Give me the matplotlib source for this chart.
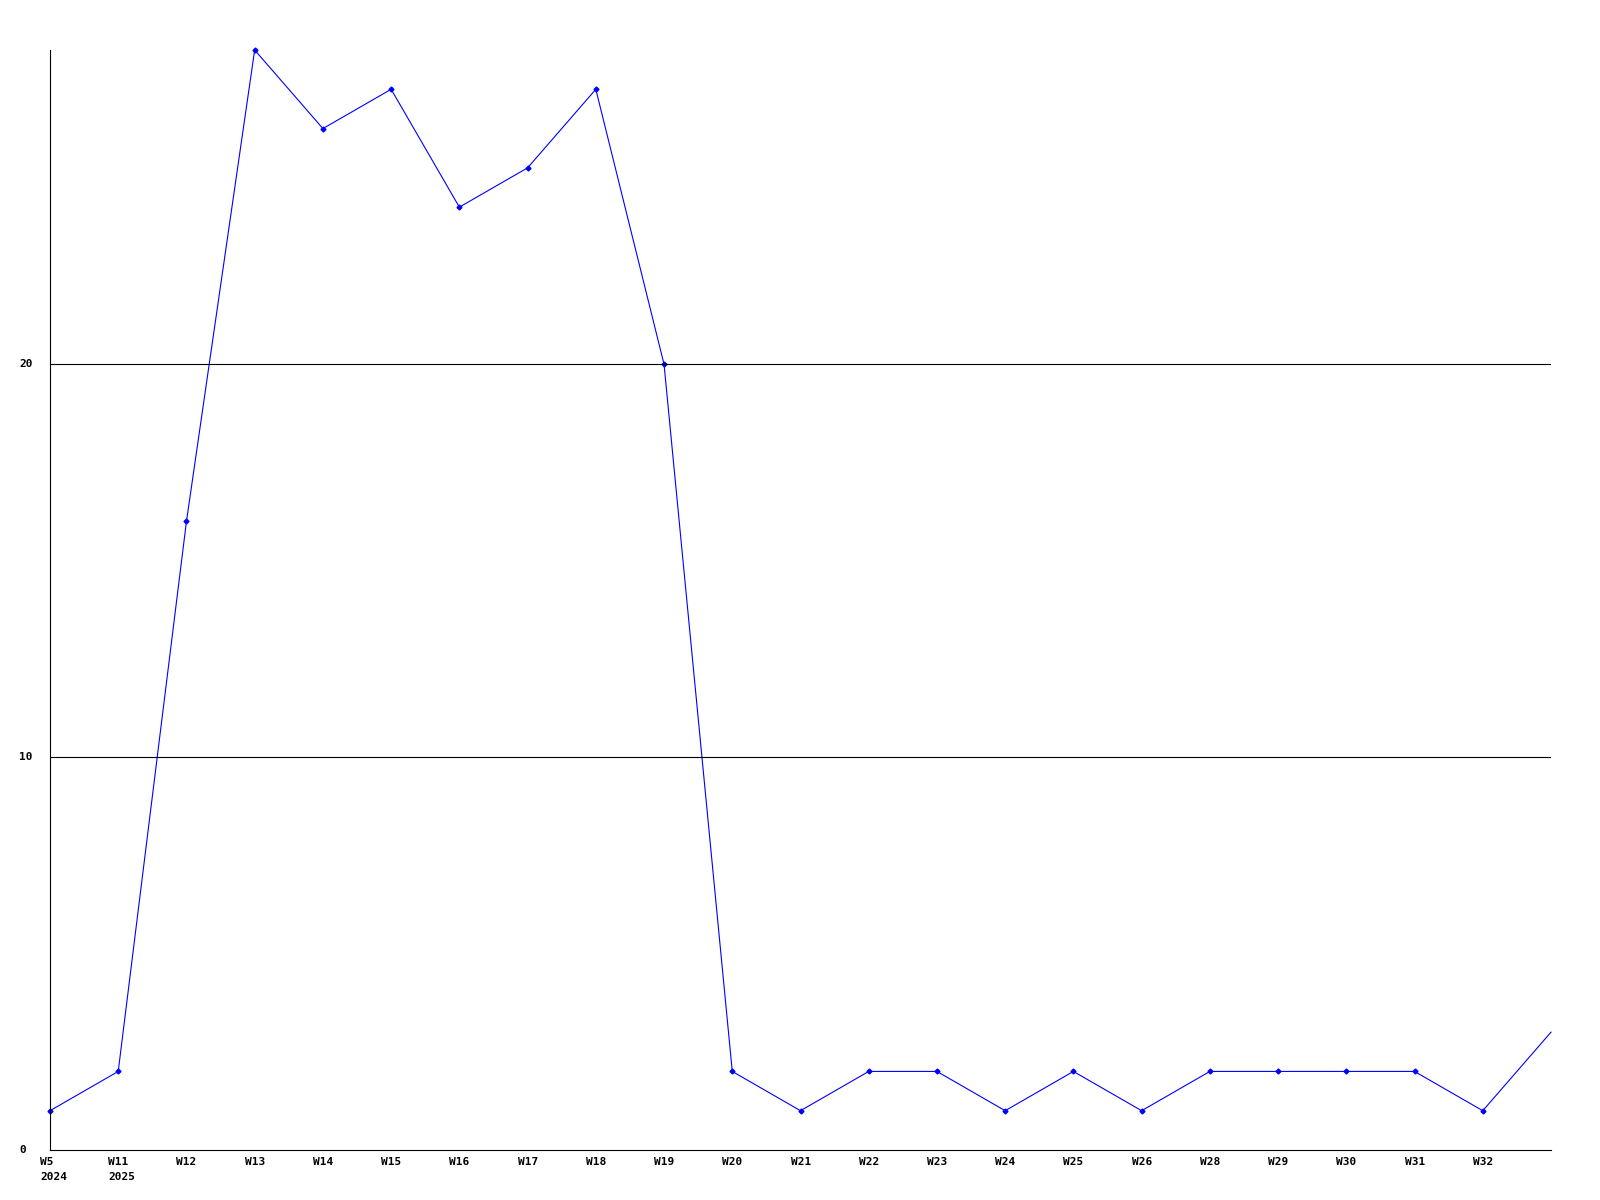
"""Weekly counts line chart, 2024-2025."""

import matplotlib
matplotlib.use("Agg")
import matplotlib.pyplot as plt
import matplotlib.transforms as mtransforms

week_labels = ["W5", "W11", "W12", "W13", "W14", "W15", "W16", "W17", "W18",
               "W19", "W20", "W21", "W22", "W23", "W24", "W25", "W26", "W28",
               "W29", "W30", "W31", "W32", ""]
year_labels = {0: "2024", 1: "2025"}
counts = [1, 2, 16, 28, 26, 27, 24, 25, 27, 20, 2, 1, 2, 2, 1, 2, 1, 2, 2, 2, 2, 1, 3]
y_ticks = [0, 10, 20]


def main() -> None:
    fig = plt.figure(figsize=(16, 12), dpi=100)
    ax = fig.add_axes([50 / 1600, 50 / 1200, 1501 / 1600, 1100 / 1200])

    xs = list(range(len(counts)))
    ax.plot(xs, counts, color="blue", lw=0.8, clip_on=False)
    ax.plot(xs[:-1], counts[:-1], ls="none", marker="D", ms=2.5, color="blue",
            clip_on=False)

    ax.set_xlim(0, len(counts) - 1)
    ax.set_ylim(0, 28)
    for v in y_ticks[1:]:
        ax.axhline(v, color="black", lw=0.8)

    for side in ("top", "right"):
        ax.spines[side].set_visible(False)
    for side in ("left", "bottom"):
        ax.spines[side].set_linewidth(0.8)
        ax.spines[side].set_color("black")
    ax.set_xticks([])
    ax.set_yticks([])

    font = dict(family="DejaVu Sans Mono", fontweight="bold", fontsize=8)
    # x labels sit just left of their tick, below the axis
    offset = mtransforms.ScaledTranslation(-10 / 100, 0, fig.dpi_scale_trans)
    trans_x = mtransforms.blended_transform_factory(ax.transData, fig.transFigure) + offset
    for i, lab in enumerate(week_labels):
        if lab:
            ax.text(i, 1 - 1162 / 1200, lab, transform=trans_x, ha="left",
                    va="center", clip_on=False, **font)
    for i, yr in year_labels.items():
        ax.text(i, 1 - 1177 / 1200, yr, transform=trans_x, ha="left",
                va="center", clip_on=False, **font)

    trans_y = mtransforms.blended_transform_factory(fig.transFigure, ax.transData)
    for v in y_ticks:
        fig.text(19 / 1600, v, str(v), transform=trans_y, ha="left",
                 va="center", **font)

    fig.savefig("out.png", dpi=100, facecolor="white")
    plt.close(fig)


if __name__ == "__main__":
    main()
